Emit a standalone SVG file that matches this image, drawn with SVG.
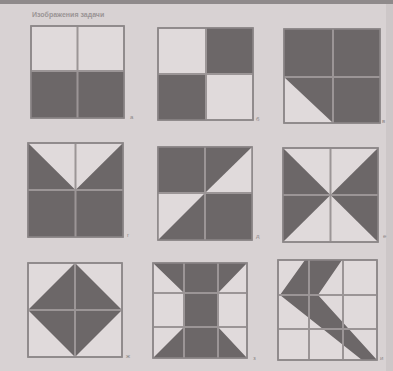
<svg xmlns="http://www.w3.org/2000/svg" width="393" height="371" viewBox="0 0 393 371">
<style>
.bg{fill:#e0dadb;stroke:#8c8788;stroke-width:1.5}
.dk{fill:#6c6768}
.lt{fill:#e0dadb}
.gl{stroke:#9b9596;stroke-width:2;fill:none}
.fr{fill:none;stroke:#8c8788;stroke-width:1.5}
.lb{font-family:"Liberation Sans",sans-serif;font-size:6px;fill:#8c8788}
.tt{font-family:"Liberation Sans",sans-serif;font-size:7px;font-weight:bold;fill:#9a9495}
</style>
<rect x="0" y="0" width="393" height="371" fill="#d8d2d3"/>
<rect x="0" y="0" width="393" height="4" fill="#8f8a8b"/>
<rect x="386" y="4" width="7" height="367" fill="#cdc7c8"/>
<text class="tt" x="32" y="17">Изображения задачи</text>

<g id="sq1">
<rect class="bg" x="31" y="26" width="93" height="92"/>
<rect class="dk" x="31" y="71" width="93" height="47"/>
<path class="gl" d="M77.5 26V118M31 71H124"/>
<rect class="fr" x="31" y="26" width="93" height="92"/>
<text class="lb" x="130" y="119">а</text>
</g>

<g id="sq2">
<rect class="bg" x="158" y="28" width="95" height="92"/>
<rect class="dk" x="206" y="28" width="47" height="46"/>
<rect class="dk" x="158" y="74" width="48" height="46"/>
<path class="gl" d="M206 28V120M158 74H253"/>
<rect class="fr" x="158" y="28" width="95" height="92"/>
<text class="lb" x="256" y="121">б</text>
</g>

<g id="sq3">
<rect class="bg" x="284" y="29" width="96" height="94"/>
<polygon class="dk" points="284,29 380,29 380,123 333,123 284,77"/>
<path class="gl" d="M333 29V123M284 77H380"/>
<rect class="fr" x="284" y="29" width="96" height="94"/>
<text class="lb" x="382" y="123">в</text>
</g>

<g id="sq4">
<rect class="bg" x="28" y="143" width="95" height="94"/>
<polygon class="dk" points="28,143 75.5,190 123,143 123,237 28,237"/>
<path class="gl" d="M75.5 143V237M28 190H123"/>
<rect class="fr" x="28" y="143" width="95" height="94"/>
<text class="lb" x="127" y="237">г</text>
</g>

<g id="sq5">
<rect class="bg" x="158" y="147" width="94" height="93"/>
<rect class="dk" x="158" y="147" width="94" height="93"/>
<polygon class="lt" points="252,147 252,193 205,193"/>
<polygon class="lt" points="158,193 205,193 158,240"/>
<path class="gl" d="M205 147V240M158 193H252"/>
<rect class="fr" x="158" y="147" width="94" height="93"/>
<text class="lb" x="256" y="238">д</text>
</g>

<g id="sq6">
<rect class="bg" x="283" y="148" width="95" height="94"/>
<polygon class="dk" points="283,148 330.5,195 283,242"/>
<polygon class="dk" points="378,148 330.5,195 378,242"/>
<path class="gl" d="M330.5 148V242M283 195H378"/>
<rect class="fr" x="283" y="148" width="95" height="94"/>
<text class="lb" x="383" y="238">е</text>
</g>

<g id="sq7">
<rect class="bg" x="28" y="263" width="94" height="94"/>
<polygon class="dk" points="75,263 122,310 75,357 28,310"/>
<path class="gl" d="M75 263V357M28 310H122"/>
<rect class="fr" x="28" y="263" width="94" height="94"/>
<text class="lb" x="126" y="358">ж</text>
</g>

<g id="sq8">
<rect class="bg" x="153" y="263" width="94" height="95"/>
<polygon class="dk" points="153,263 247,263 218,293 218,327 247,358 153,358 184,327 184,293"/>
<path class="gl" d="M184 263V358M218 263V358M153 293H247M153 327H247"/>
<rect class="fr" x="153" y="263" width="94" height="95"/>
<text class="lb" x="253" y="360">з</text>
</g>

<g id="sq9">
<rect class="bg" x="278" y="260" width="99" height="100"/>
<polygon class="dk" points="305,260 342,260 318,295 377,360 362,360 280,295"/>
<path class="gl" d="M309 260V360M343 260V360M278 295H377M278 329H377"/>
<rect class="fr" x="278" y="260" width="99" height="100"/>
<text class="lb" x="380" y="360">и</text>
</g>
</svg>
